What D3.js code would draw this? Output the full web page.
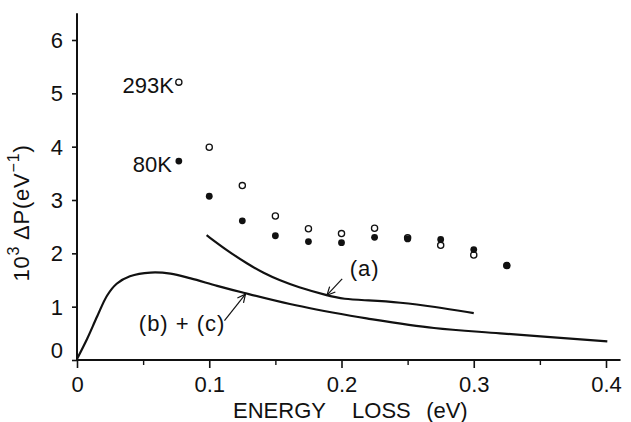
<!DOCTYPE html>
<html>
<head>
<meta charset="utf-8">
<script src="https://cdn.jsdelivr.net/npm/d3@7"></script>
<style>
  html,body{margin:0;padding:0;background:#fff;}
  svg text{font-family:"Liberation Sans","Arial","DejaVu Sans",sans-serif;fill:#111;}
</style>
</head>
<body>
<svg id="chart" width="631" height="422"></svg>
<script>
// ---- data ----
const energy = [0.077, 0.1, 0.125, 0.15, 0.175, 0.2, 0.225, 0.25, 0.275, 0.3, 0.325];
const p293K  = [5.21, 3.99, 3.27, 2.70, 2.46, 2.37, 2.47, 2.29, 2.15, 1.97, 1.77];
const p80K   = [3.73, 3.07, 2.61, 2.33, 2.22, 2.20, 2.30, 2.27, 2.26, 2.07, 1.77];

const curveAE = [0.098, 0.1136, 0.129, 0.141, 0.1535, 0.1665, 0.189, 0.2017, 0.219, 0.2446, 0.270, 0.300];
const curveAP = [2.34, 2.05, 1.80, 1.63, 1.49, 1.37, 1.21, 1.14, 1.12, 1.08, 1.00, 0.88];

const curveBCE = [0, 0.0077, 0.0153, 0.0228, 0.030, 0.040, 0.0556, 0.0707, 0.086, 0.106, 0.126, 0.161, 0.2068, 0.219, 0.270, 0.320, 0.401];
const curveBCP = [0.02, 0.40, 0.82, 1.21, 1.43, 1.57, 1.64, 1.62, 1.53, 1.39, 1.26, 1.05, 0.83, 0.78, 0.60, 0.50, 0.35];

const xTicks = [0, 0.1, 0.2, 0.3, 0.4];
const xMinorTicks = [0.05, 0.15, 0.25, 0.35];
const yTicks = [0, 1, 2, 3, 4, 5, 6];

// annotations (data units)
const seriesLabels = ["293K", "80K"];
const xTitleWords = ["ENERGY", "LOSS", "(eV)"];
const annA = {text: "(a)", x: 0.2175, y: 1.57, from: [0.2005, 1.52], to: [0.189, 1.215]};
const annBC = {text: "(b) + (c)", x: 0.0795, y: 0.54, from: [0.1115, 0.74], to: [0.1274, 1.235]};

// ---- layout ----
const svg = d3.select("#chart");
const x = d3.scaleLinear().domain([0, 0.4]).range([77, 606]);
const y = d3.scaleLinear().domain([0, 6]).range([360, 40]);
const xEnd = 0.411, yEnd = 6.5;
const ink = "#111";
const FS = 22;

// axes lines
svg.append("line").attr("x1", x(0)).attr("x2", x(xEnd)).attr("y1", y(0)).attr("y2", y(0))
  .attr("stroke", ink).attr("stroke-width", 2);
svg.append("line").attr("x1", x(0)).attr("x2", x(0)).attr("y1", y(0)).attr("y2", y(yEnd))
  .attr("stroke", ink).attr("stroke-width", 2);

// x axis
const xAxis = d3.axisBottom(x).tickValues(xTicks).tickSize(8).tickSizeOuter(0).tickPadding(8)
  .tickFormat(d => d === 0 ? "0" : d3.format(".1f")(d));
const gx = svg.append("g").attr("transform", `translate(0,${y(0)})`).call(xAxis);
gx.select(".domain").remove();
gx.selectAll(".tick line").attr("stroke", ink).attr("stroke-width", 1.6);
gx.selectAll(".tick text").attr("font-size", FS).attr("fill", ink)
  .attr("font-family", "Liberation Sans, Arial, sans-serif");

const gxm = svg.append("g").attr("transform", `translate(0,${y(0)})`)
  .call(d3.axisBottom(x).tickValues(xMinorTicks).tickSize(5).tickSizeOuter(0).tickFormat(""));
gxm.select(".domain").remove();
gxm.selectAll(".tick line").attr("stroke", ink).attr("stroke-width", 1.4);

// y axis
const yAxis = d3.axisLeft(y).tickValues(yTicks).tickSize(5).tickSizeOuter(0).tickPadding(9)
  .tickFormat(d3.format("d"));
const gy = svg.append("g").attr("transform", `translate(${x(0)},0)`).call(yAxis);
gy.select(".domain").remove();
gy.selectAll(".tick line").attr("stroke", ink).attr("stroke-width", 1.6);
gy.selectAll(".tick text").attr("font-size", FS).attr("fill", ink)
  .attr("font-family", "Liberation Sans, Arial, sans-serif")
  .attr("dy", d => d === 0 ? "-0.1em" : "0.34em");

// x title, words spread out as in the reference
const xt = svg.append("text").attr("y", 418).attr("font-size", FS);
const wordStarts = [0.118, 0.208, 0.264]; // in energy units
xTitleWords.forEach((w, i) => xt.append("tspan").attr("x", x(wordStarts[i])).text(w));

// y title
const yl = svg.append("text")
  .attr("transform", `translate(29,213) rotate(-90)`)
  .attr("text-anchor", "middle").attr("font-size", FS).attr("letter-spacing", 0.8);
yl.append("tspan").text("10");
yl.append("tspan").attr("dy", -10).attr("font-size", 16).text("3");
yl.append("tspan").attr("dy", 10).text(" ΔP(eV");
yl.append("tspan").attr("dy", -10).attr("font-size", 16).text("−1");
yl.append("tspan").attr("dy", 10).text(")");

// curves
const lineA = d3.line().x(d => x(d[0])).y(d => y(d[1])).curve(d3.curveBasis);
const lineBC = d3.line().x(d => x(d[0])).y(d => y(d[1])).curve(d3.curveCatmullRom.alpha(0.5));
svg.append("path").datum(curveAE.map((e, i) => [e, curveAP[i]]))
  .attr("d", lineA).attr("fill", "none").attr("stroke", ink).attr("stroke-width", 2.2);
svg.append("path").datum(curveBCE.map((e, i) => [e, curveBCP[i]]))
  .attr("d", lineBC).attr("fill", "none").attr("stroke", ink).attr("stroke-width", 2.2);

// points
svg.append("g").selectAll("circle").data(energy.map((e, i) => [e, p293K[i]])).join("circle")
  .attr("cx", d => x(d[0])).attr("cy", d => y(d[1])).attr("r", 3.1)
  .attr("fill", "#fff").attr("stroke", ink).attr("stroke-width", 1.3);
svg.append("g").selectAll("circle").data(energy.map((e, i) => [e, p80K[i]])).join("circle")
  .attr("cx", d => x(d[0])).attr("cy", d => y(d[1])).attr("r", 3.4)
  .attr("fill", ink);

// series labels next to the first points
[[p293K[0], seriesLabels[0], 5], [p80K[0], seriesLabels[1], 7]].forEach(([v, t, off]) => {
  svg.append("text").attr("x", x(energy[0]) - off).attr("y", y(v) + 11)
    .attr("text-anchor", "end").attr("font-size", FS).text(t);
});

// annotations with open arrow heads
function arrow(a) {
  svg.append("text").attr("x", x(a.x)).attr("y", y(a.y)).attr("text-anchor", "middle")
    .attr("font-size", FS).attr("letter-spacing", 1).attr("xml:space", "preserve")
    .style("white-space", "pre").text(a.text);
  const x1 = x(a.from[0]), y1 = y(a.from[1]), x2 = x(a.to[0]), y2 = y(a.to[1]);
  svg.append("line").attr("x1", x1).attr("y1", y1).attr("x2", x2).attr("y2", y2)
    .attr("stroke", ink).attr("stroke-width", 1.2);
  const ang = Math.atan2(y1 - y2, x1 - x2), L = 9, w = 0.45;
  const p = [[x2 + L * Math.cos(ang + w), y2 + L * Math.sin(ang + w)], [x2, y2],
             [x2 + L * Math.cos(ang - w), y2 + L * Math.sin(ang - w)]];
  svg.append("path").attr("d", d3.line()(p)).attr("fill", "none")
    .attr("stroke", ink).attr("stroke-width", 1.2);
}
arrow(annA);
arrow(annBC);
</script>
</body>
</html>
